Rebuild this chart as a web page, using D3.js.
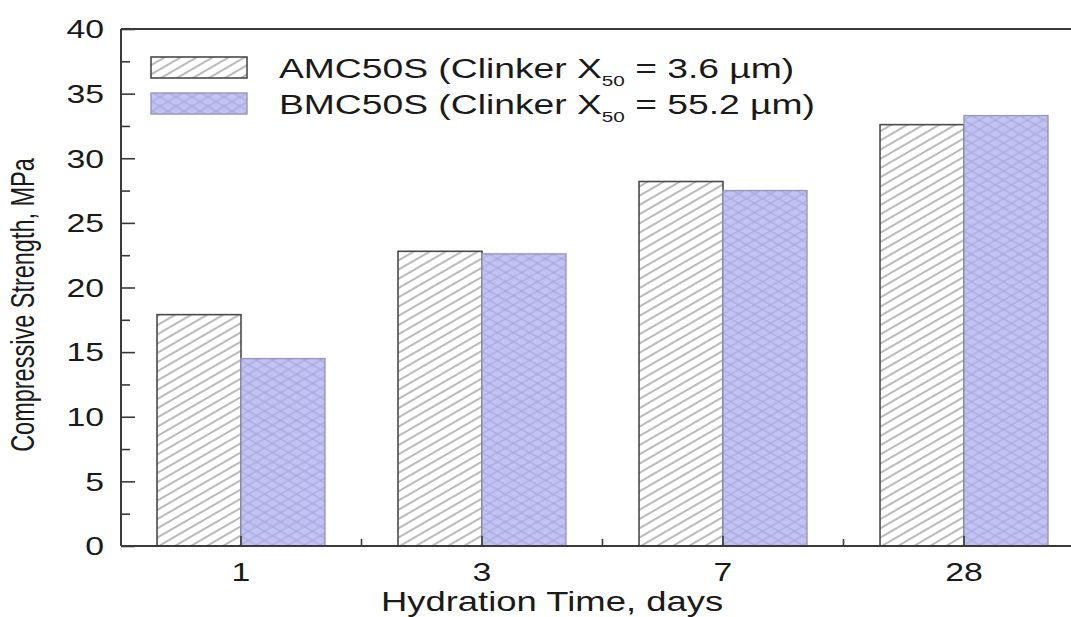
<!DOCTYPE html>
<html>
<head>
<meta charset="utf-8">
<script src="https://cdn.jsdelivr.net/npm/d3@7"></script>
<style>
  html, body { margin: 0; padding: 0; background: #fff; }
  svg { display: block; }
  text { font-family: "Liberation Sans", Arial, sans-serif; fill: #1a1a1a; }
</style>
</head>
<body>
<svg id="chart" width="1071" height="617"></svg>
<script>
// Hydration ages (days) and compressive strength (MPa) of the two cements
const categories = ["1", "3", "7", "28"];
const seriesNames = ["AMC50S", "BMC50S"];
const amcValues = [17.9, 22.8, 28.2, 32.6];
const bmcValues = [14.5, 22.6, 27.5, 33.3];
const yTicks = [0, 5, 10, 15, 20, 25, 30, 35, 40];
const legendLabels = [
  { pre: "AMC50S (Clinker X", sub: "50", post: " = 3.6 \u00b5m)" },
  { pre: "BMC50S (Clinker X", sub: "50", post: " = 55.2 \u00b5m)" }
];

const svg = d3.select("#chart");
const SX = 1.3; // horizontal text stretch

// patterns
const defs = svg.append("defs");
const hatch = defs.append("pattern").attr("id", "hatchA")
  .attr("patternUnits", "userSpaceOnUse").attr("width", 12).attr("height", 8)
  .attr("patternTransform", "rotate(-30)");
hatch.append("rect").attr("width", 12).attr("height", 8).attr("fill", "#fff");
hatch.append("line").attr("x1", 0).attr("x2", 12).attr("y1", 4).attr("y2", 4)
  .attr("stroke", "#8c8c8c").attr("stroke-width", 1.2);

const crossA = defs.append("pattern").attr("id", "crossB1")
  .attr("patternUnits", "userSpaceOnUse").attr("width", 12).attr("height", 8)
  .attr("patternTransform", "rotate(-30)");
crossA.append("rect").attr("width", 12).attr("height", 8).attr("fill", "#c3c3f3");
crossA.append("line").attr("x1", 0).attr("x2", 12).attr("y1", 4).attr("y2", 4)
  .attr("stroke", "#a6a6dc").attr("stroke-width", 1.2);
const crossB = defs.append("pattern").attr("id", "crossB2")
  .attr("patternUnits", "userSpaceOnUse").attr("width", 12).attr("height", 8)
  .attr("patternTransform", "rotate(30)");
crossB.append("line").attr("x1", 0).attr("x2", 12).attr("y1", 4).attr("y2", 4)
  .attr("stroke", "#a6a6dc").attr("stroke-width", 1.2);

// scales
const plotLeft = 121, plotTop = 29, plotBottom = 546, plotRight = 1071;
const x0 = d3.scaleBand().domain(categories).range([120.5, 1084.5]).padding(0);
const x1 = d3.scaleBand().domain(seriesNames).range([0, x0.bandwidth()]).paddingInner(0).paddingOuter(0.435);
const y = d3.scaleLinear().domain([0, 40]).range([plotBottom, plotTop]);

const rows = categories.map((c, i) => ({ cat: c, vals: [
  { s: "AMC50S", v: amcValues[i] }, { s: "BMC50S", v: bmcValues[i] }] }));

// bars
const groups = svg.append("g").selectAll("g").data(rows).join("g")
  .attr("transform", d => `translate(${x0(d.cat)},0)`);
groups.each(function(d) {
  const g = d3.select(this);
  d.vals.forEach(p => {
    const bx = x1(p.s), bw = x1.bandwidth(), by = y(p.v), bh = y(0) - y(p.v);
    if (p.s === "AMC50S") {
      g.append("rect").attr("x", bx).attr("y", by).attr("width", bw).attr("height", bh)
        .attr("fill", "url(#hatchA)").attr("stroke", "#4a4a4a").attr("stroke-width", 1.6);
    } else {
      g.append("rect").attr("x", bx).attr("y", by).attr("width", bw).attr("height", bh)
        .attr("fill", "url(#crossB1)");
      g.append("rect").attr("x", bx).attr("y", by).attr("width", bw).attr("height", bh)
        .attr("fill", "url(#crossB2)").attr("stroke", "#9696be").attr("stroke-width", 1.4);
    }
  });
});

// frame
const axisColor = "#3a3a3a";
svg.append("line").attr("x1", plotLeft).attr("x2", plotRight).attr("y1", plotTop).attr("y2", plotTop)
  .attr("stroke", axisColor).attr("stroke-width", 2);
svg.append("line").attr("x1", plotLeft).attr("x2", plotLeft).attr("y1", plotTop).attr("y2", plotBottom)
  .attr("stroke", axisColor).attr("stroke-width", 2);
svg.append("line").attr("x1", plotLeft).attr("x2", plotRight).attr("y1", plotBottom).attr("y2", plotBottom)
  .attr("stroke", axisColor).attr("stroke-width", 2);

// y axis ticks (inward)
const yAxisG = svg.append("g").attr("transform", `translate(${plotLeft},0)`)
  .call(d3.axisRight(y).tickValues(d3.range(0, 40.1, 2.5)).tickSize(0).tickFormat(""));
yAxisG.select(".domain").remove();
yAxisG.selectAll(".tick").append("line")
  .attr("x1", 0).attr("x2", d => d % 5 === 0 ? 14 : 9)
  .attr("stroke", axisColor).attr("stroke-width", 1.6);

yTicks.forEach(t => {
  svg.append("g").attr("transform", `translate(104,${y(t)}) scale(${SX},1)`)
    .append("text").attr("text-anchor", "end").attr("dy", "0.36em")
    .style("font-size", "26px").text(t);
});

// x axis ticks: inward at category centres and boundaries
const xAxisG = svg.append("g").attr("transform", `translate(0,${plotBottom})`)
  .call(d3.axisTop(x0).tickSize(0).tickFormat(""));
xAxisG.select(".domain").remove();
xAxisG.selectAll(".tick").append("line").attr("y1", 0).attr("y2", -10)
  .attr("stroke", axisColor).attr("stroke-width", 1.6);
categories.slice(1).forEach(c => {
  svg.append("line").attr("x1", x0(c)).attr("x2", x0(c)).attr("y1", plotBottom).attr("y2", plotBottom - 7)
    .attr("stroke", axisColor).attr("stroke-width", 1.6);
});
categories.forEach(c => {
  svg.append("g").attr("transform", `translate(${x0(c) + x0.bandwidth() / 2},${plotBottom + 35}) scale(${SX},1)`)
    .append("text").attr("text-anchor", "middle").style("font-size", "26px").text(c);
});

// axis titles
svg.append("g").attr("transform", `translate(552,611) scale(1.35,1)`)
  .append("text").attr("text-anchor", "middle").style("font-size", "27px").text("Hydration Time, days");
svg.append("g").attr("transform", `translate(34,305) rotate(-90) scale(1,1.45)`)
  .append("text").attr("text-anchor", "middle").style("font-size", "23.5px").text("Compressive Strength, MPa");

// legend
const legend = svg.append("g");
legendLabels.forEach((lab, i) => {
  const ly = 57 + i * 36;
  if (i === 0) {
    legend.append("rect").attr("x", 151).attr("y", ly).attr("width", 96).attr("height", 21)
      .attr("fill", "url(#hatchA)").attr("stroke", "#4a4a4a").attr("stroke-width", 1.6);
  } else {
    legend.append("rect").attr("x", 151).attr("y", ly).attr("width", 96).attr("height", 21)
      .attr("fill", "url(#crossB1)");
    legend.append("rect").attr("x", 151).attr("y", ly).attr("width", 96).attr("height", 21)
      .attr("fill", "url(#crossB2)").attr("stroke", "#9696be").attr("stroke-width", 1.4);
  }
  const t = legend.append("g").attr("transform", `translate(279,${ly + 21}) scale(1.38,1)`)
    .append("text").style("font-size", "27px");
  t.append("tspan").text(lab.pre);
  t.append("tspan").attr("dy", 8).style("font-size", "15px").text(lab.sub);
  t.append("tspan").attr("dy", -8).text(lab.post);
});
</script>
</body>
</html>
